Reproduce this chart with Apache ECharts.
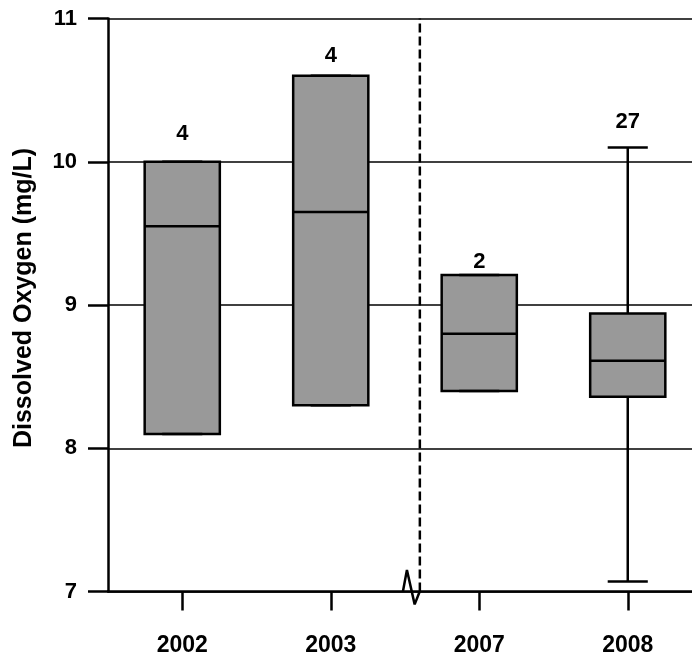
<!DOCTYPE html>
<html>
<head>
<meta charset="utf-8">
<script src="https://cdn.jsdelivr.net/npm/echarts@6/dist/echarts.min.js"></script>
<style>
html,body{margin:0;padding:0;background:#fff;}
#chart{width:692px;height:655px;}
</style>
</head>
<body>
<div id="chart"></div>
<script>
// ---- data ----
var categories  = ['2002', '2003', '2007', '2008'];
var lowWhisker  = [8.10, 8.30, 8.40, 7.07];
var q1          = [8.10, 8.30, 8.40, 8.36];
var median      = [9.55, 9.65, 8.80, 8.61];
var q3          = [10.00, 10.60, 9.21, 8.94];
var highWhisker = [10.00, 10.60, 9.21, 10.10];
var counts      = [4, 4, 2, 27];
var yTicks      = [7, 8, 9, 10, 11];
// period separator (between 2003 and 2007) and axis-break zigzag, in axis units
var separatorX  = 1.6;
var breakX      = [1.486, 1.513, 1.565, 1.599];
var breakY      = [7.00, 7.15, 6.91, 7.00];

// ---- styling (not data) ----
var labelGap = [28, 20, 13, 25];
var FONT = "'Liberation Sans', Arial, Helvetica, sans-serif";

var boxData = categories.map(function (c, i) {
  return [i, lowWhisker[i], q1[i], median[i], q3[i], highWhisker[i], counts[i]];
});
var breakData = breakX.map(function (x, i) { return [x, breakY[i]]; });

function renderBox(params, api) {
  var idx = api.value(0);
  var band = api.size([1, 0])[0];
  var half = band * 0.253;
  var capHalf = band * 0.135;
  var pMin = api.coord([idx, api.value(1)]);
  var pQ1 = api.coord([idx, api.value(2)]);
  var pMed = api.coord([idx, api.value(3)]);
  var pQ3 = api.coord([idx, api.value(4)]);
  var pMax = api.coord([idx, api.value(5)]);
  var x = pMed[0];
  var ls = { stroke: '#000', lineWidth: 2.5 };
  return {
    type: 'group',
    children: [
      { type: 'line', shape: { x1: x, y1: pQ3[1], x2: x, y2: pMax[1] }, style: ls },
      { type: 'line', shape: { x1: x, y1: pQ1[1], x2: x, y2: pMin[1] }, style: ls },
      { type: 'rect', shape: { x: x - half, y: pQ3[1], width: half * 2, height: pQ1[1] - pQ3[1] },
        style: { fill: '#999999', stroke: '#000', lineWidth: 2.5 } },
      { type: 'line', shape: { x1: x - half, y1: pMed[1], x2: x + half, y2: pMed[1] }, style: ls },
      { type: 'line', shape: { x1: x - capHalf, y1: pMax[1], x2: x + capHalf, y2: pMax[1] }, style: ls },
      { type: 'line', shape: { x1: x - capHalf, y1: pMin[1], x2: x + capHalf, y2: pMin[1] }, style: ls },
      { type: 'text', x: x, y: pMax[1] - labelGap[idx],
        style: { text: String(api.value(6)), fill: '#000', font: 'bold 22px ' + FONT,
                 align: 'center', verticalAlign: 'middle' } }
    ]
  };
}

var chart = echarts.init(document.getElementById('chart'), null, { renderer: 'canvas' });
chart.setOption({
  animation: false,
  backgroundColor: '#ffffff',
  grid: { left: 108, right: -10, top: 18.5, bottom: 63.5, containLabel: false, outerBoundsMode: 'none' },
  xAxis: [
    {
      type: 'category',
      data: categories,
      boundaryGap: true,
      axisLine: { show: true, onZero: false, lineStyle: { color: '#000', width: 2.5 } },
      axisTick: { show: true, alignWithLabel: true, length: 19, lineStyle: { color: '#000', width: 2.5 } },
      axisLabel: { margin: 43, color: '#000', fontSize: 23, fontWeight: 'bold', fontFamily: FONT },
      splitLine: { show: false }
    },
    {
      type: 'value', min: -0.5, max: 3.5, show: false,
      splitLine: { show: false }
    }
  ],
  yAxis: {
    type: 'value',
    min: yTicks[0], max: yTicks[yTicks.length - 1], interval: 1,
    name: 'Dissolved Oxygen (mg/L)',
    nameLocation: 'middle',
    nameRotate: 90,
    nameGap: 71,
    nameTextStyle: { color: '#000', fontSize: 25, fontWeight: 'bold', fontFamily: FONT, padding: [0, 0, 0, 14] },
    axisLine: { show: true, onZero: false, lineStyle: { color: '#000', width: 2.5 } },
    axisTick: { show: true, length: 20, lineStyle: { color: '#000', width: 2.5 } },
    axisLabel: { margin: 31, color: '#000', fontSize: 22, fontWeight: 'bold', fontFamily: FONT },
    splitLine: { show: true, lineStyle: { color: '#000', width: 1.5 } }
  },
  series: [
    {
      type: 'custom',
      xAxisIndex: 0,
      renderItem: renderBox,
      encode: { x: 0, y: [1, 2, 3, 4, 5] },
      data: boxData,
      clip: false,
      z: 3
    },
    {
      type: 'line',
      xAxisIndex: 1,
      data: [[separatorX, yTicks[0]], [separatorX, yTicks[yTicks.length - 1]]],
      symbol: 'none',
      lineStyle: { color: '#000', width: 2.5, type: [9, 4] },
      z: 4
    },
    {
      type: 'line',
      xAxisIndex: 1,
      data: breakData,
      symbol: 'none',
      clip: false,
      lineStyle: { color: '#000', width: 2.5 },
      z: 5
    }
  ]
});
</script>
</body>
</html>
